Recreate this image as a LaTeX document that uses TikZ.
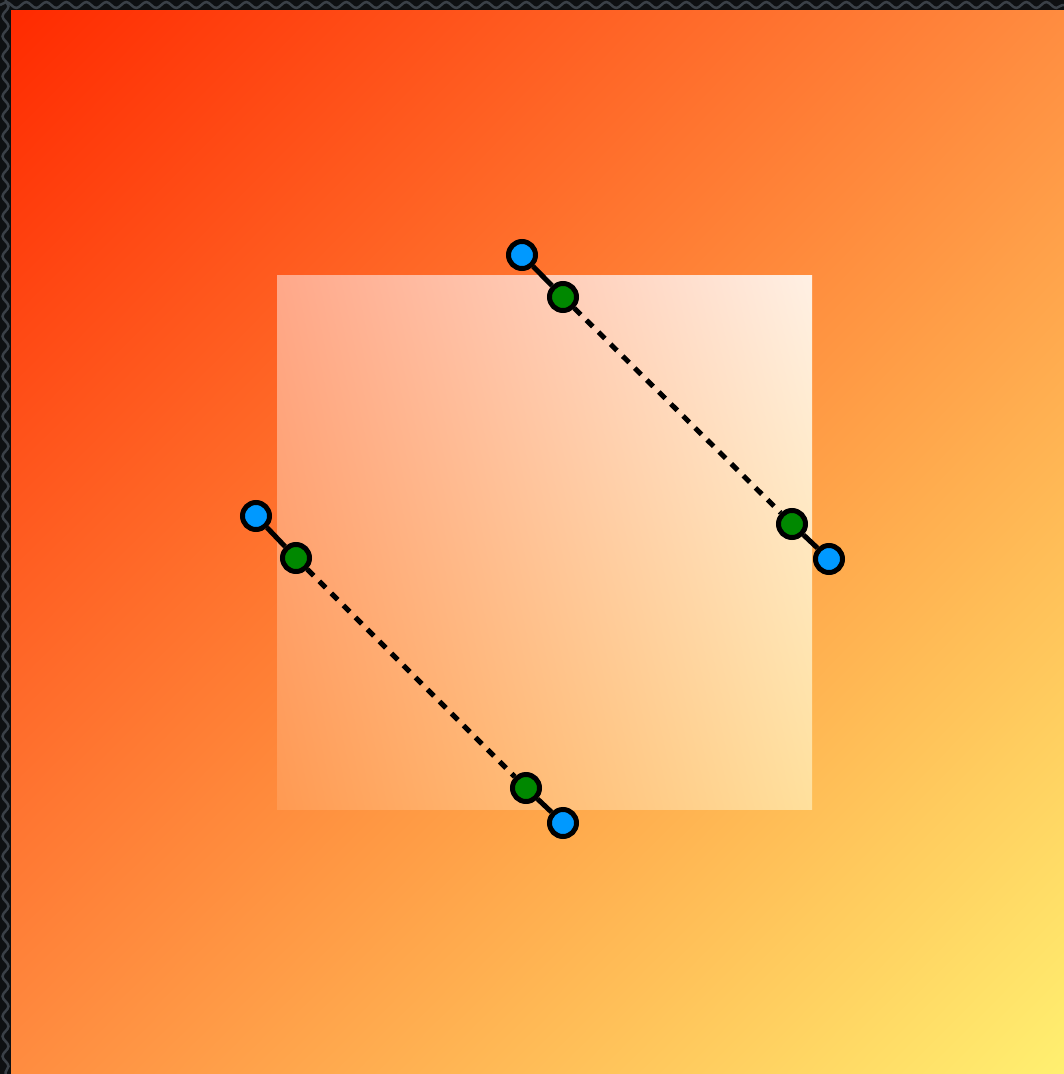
\documentclass[tikz,border=0pt]{standalone}
\usetikzlibrary{decorations.pathmorphing,shadings}
\definecolor{bgdark}{HTML}{0E1012}
\definecolor{bgwave}{HTML}{3A4047}
\definecolor{cTL}{HTML}{FF2A00}
\definecolor{cTR}{HTML}{FF8C40}
\definecolor{cBL}{HTML}{FF8C40}
\definecolor{cBR}{HTML}{FFF070}
\definecolor{iTL}{HTML}{FFA88A}
\definecolor{iTR}{HTML}{FFF0E4}
\definecolor{iBL}{HTML}{FF9A52}
\definecolor{iBR}{HTML}{FFE09C}
\definecolor{handleblue}{HTML}{0099FF}
\definecolor{handlegreen}{HTML}{008800}
\tikzset{
  handle/.style={circle, draw=black, line width=5pt, inner sep=0pt, minimum size=27pt},
  bluept/.style={handle, fill=handleblue},
  greenpt/.style={handle, fill=handlegreen},
  arm/.style={draw=black, line width=5pt},
  dashline/.style={draw=black, line width=5pt, dash pattern=on 9pt off 8pt},
  wave/.style={draw=bgwave, line width=2.5pt, decorate, decoration={snake, amplitude=3pt, segment length=20pt}}
}
\begin{document}
\begin{tikzpicture}[x=1pt,y=-1pt]
\useasboundingbox (0,0) rectangle (1064,1074);
% dark patterned border
\fill[bgdark] (0,0) rectangle (1064,1074);
\draw[wave] (0,5) -- (1064,5);
\draw[wave] (5.5,0) -- (5.5,1074);
% main gradient
\shade[upper left=cTL, upper right=cTR, lower left=cBL, lower right=cBR] (11,10) rectangle (1064,1074);
% inner translucent square
\shade[upper left=iTL, upper right=iTR, lower left=iBL, lower right=iBR] (277,275) rectangle (812,809);
% handle points
\node[bluept] (b1) at (522,255) {};
\node[greenpt] (g1) at (563,297) {};
\node[greenpt] (g2) at (792,524) {};
\node[bluept] (b2) at (829,559) {};
\node[bluept] (b3) at (256,516) {};
\node[greenpt] (g3) at (296,558) {};
\node[greenpt] (g4) at (526,788) {};
\node[bluept] (b4) at (563,823) {};
% connectors
\draw[arm] (b1) -- (g1);
\draw[dashline] (g1) -- (g2);
\draw[arm] (g2) -- (b2);
\draw[arm] (b3) -- (g3);
\draw[dashline] (g3) -- (g4);
\draw[arm] (g4) -- (b4);
\end{tikzpicture}
\end{document}
